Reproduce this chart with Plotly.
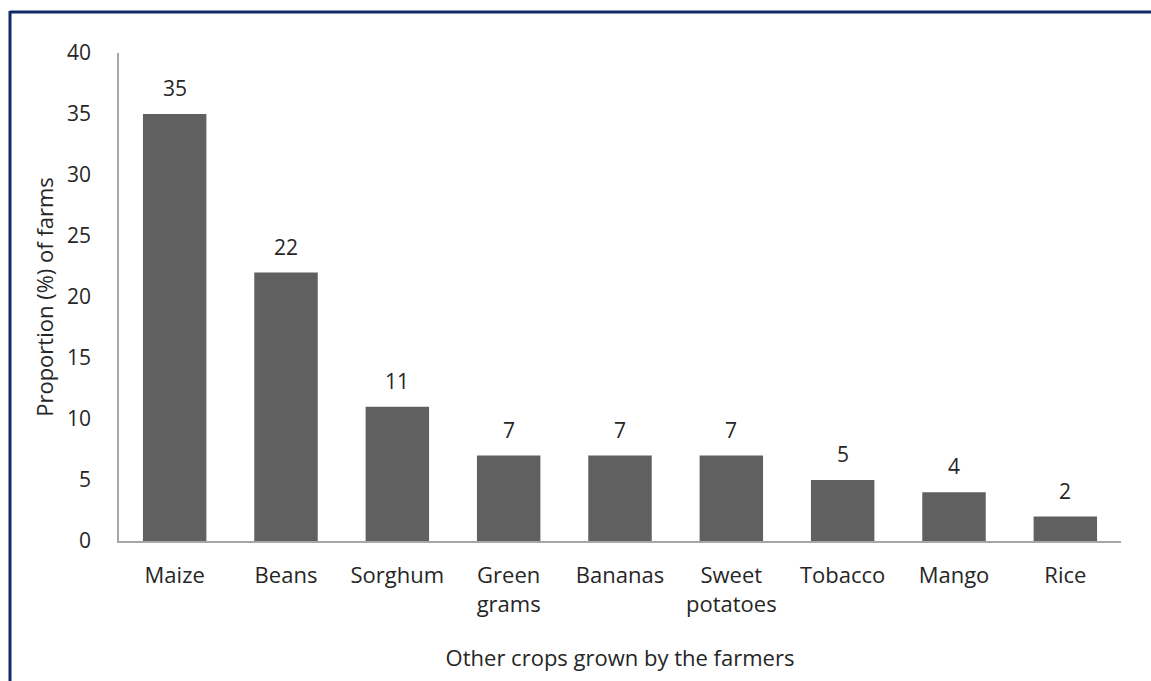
import plotly.graph_objects as go

categories = ["Maize", "Beans", "Sorghum", "Green<br>grams", "Bananas",
              "Sweet<br>potatoes", "Tobacco", "Mango", "Rice"]
values = [35, 22, 11, 7, 7, 7, 5, 4, 2]
y_ticks = [0, 5, 10, 15, 20, 25, 30, 35, 40]

FONT = "Open Sans"
TXT = "#262626"
FS = 21
FL = 22

fig = go.Figure(go.Bar(
    x=categories, y=values,
    marker=dict(color="#606060", line=dict(width=0)),
    width=0.57,
))

for c, v in zip(categories, values):
    fig.add_annotation(x=c, y=v, text=str(v), showarrow=False,
                       yanchor="bottom", yshift=10,
                       font=dict(family=FONT, size=FS, color=TXT))

W, H = 1151, 681
L, R, T, B = 119, 30, 53, 140
pw, ph = W - L - R, H - T - B

def px(x):
    return (x - L) / pw

def py(y):
    return 1 - (y - T) / ph

fig.update_layout(
    width=W, height=H,
    margin=dict(l=L, r=R, t=T, b=B),
    paper_bgcolor="white", plot_bgcolor="white",
    showlegend=False,
    font=dict(family=FONT, size=FS, color=TXT),
    xaxis=dict(
        showline=True, linecolor="#a6a6a6", linewidth=1.5,
        showgrid=False, ticks="", ticklabelstandoff=14,
        tickfont=dict(family=FONT, size=FL, color=TXT),
        title=dict(text="Other crops grown by the farmers", standoff=34,
                   font=dict(family=FONT, size=FL, color=TXT)),
    ),
    yaxis=dict(
        range=[0, 40], tickvals=y_ticks,
        showline=True, linecolor="#a6a6a6", linewidth=1.5,
        showgrid=False, ticks="", ticklabelstandoff=22, zeroline=False,
        tickfont=dict(family=FONT, size=FS, color=TXT),
        title=dict(text="Proportion (%) of farms", standoff=7,
                   font=dict(family=FONT, size=FL, color=TXT)),
    ),
    shapes=[
        dict(type="line", xref="paper", yref="paper",
             x0=px(10), x1=px(1151), y0=py(12), y1=py(12),
             line=dict(color="#102a68", width=3)),
        dict(type="line", xref="paper", yref="paper",
             x0=px(10), x1=px(10), y0=py(11), y1=py(681),
             line=dict(color="#102a68", width=3)),
    ],
)

fig.write_html("out.html")
